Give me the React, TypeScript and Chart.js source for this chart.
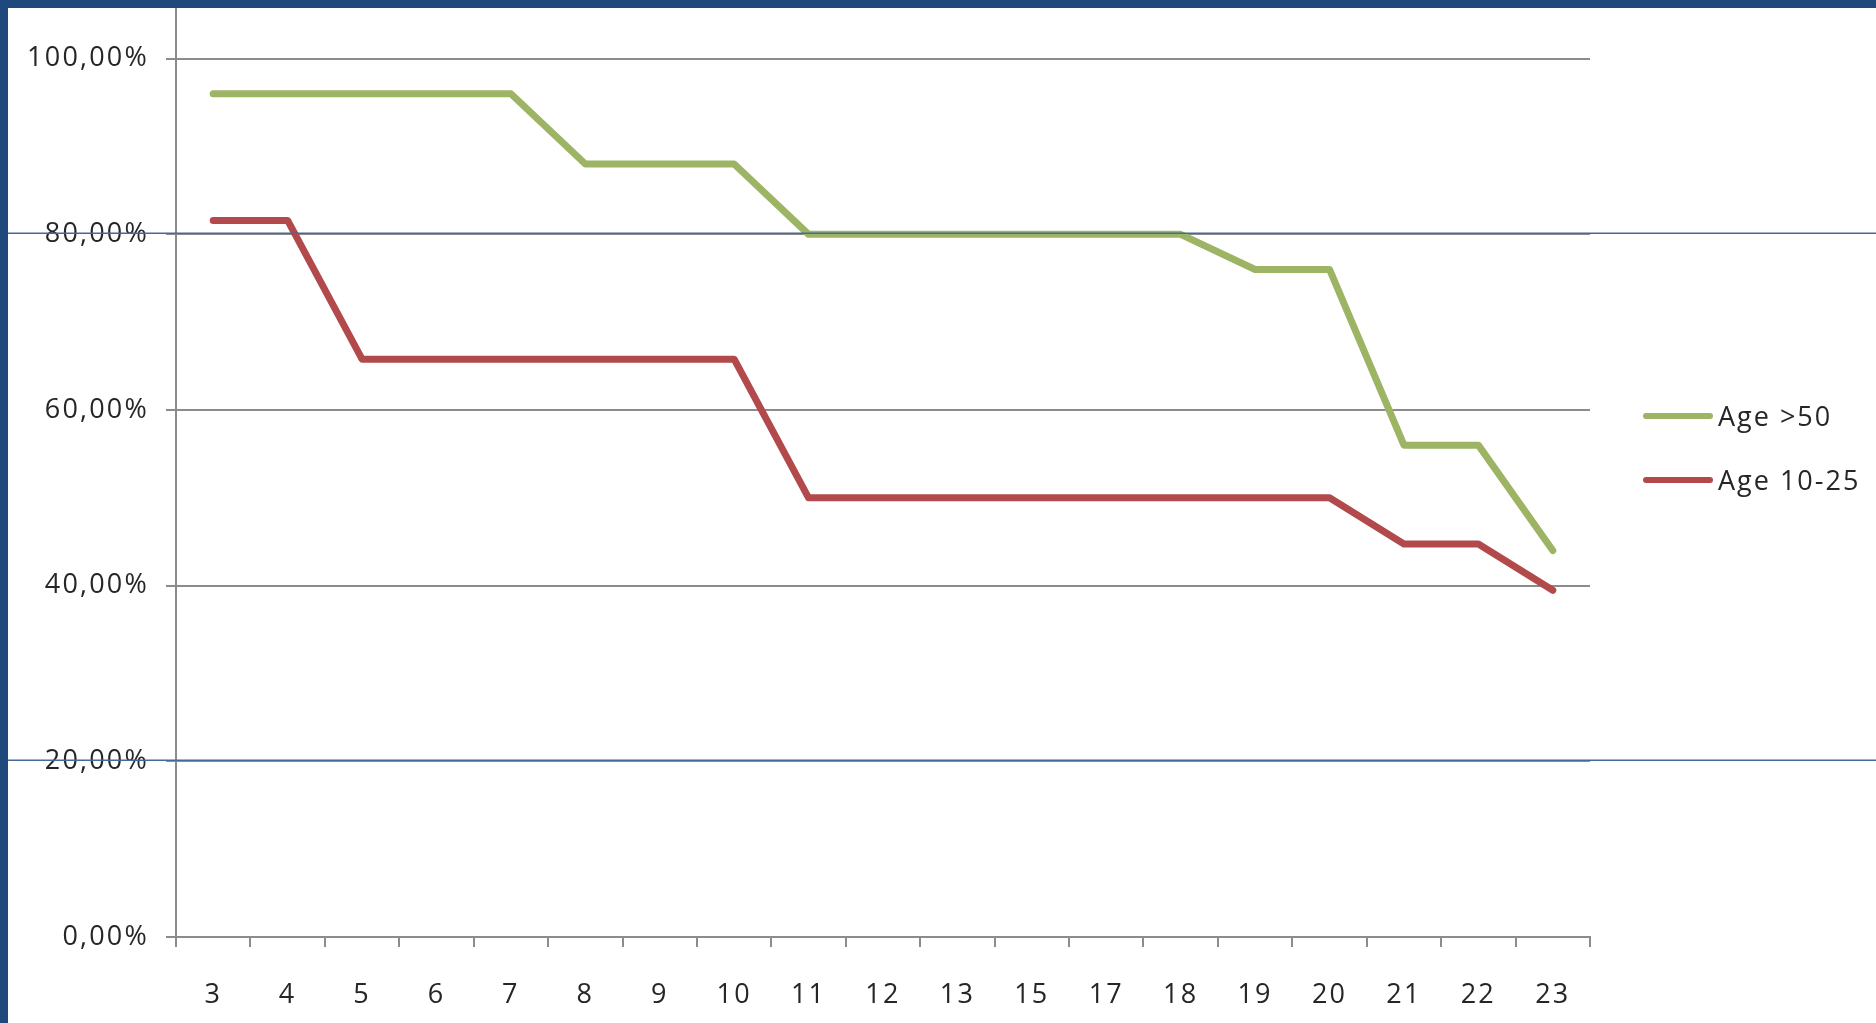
import React, { useEffect, useRef } from 'react';
import { Chart, registerables } from 'chart.js';

Chart.register(...registerables);

const categories = ['3', '4', '5', '6', '7', '8', '9', '10', '11', '12', '13', '15', '17', '18', '19', '20', '21', '22', '23'];
const ageOver50 = [96, 96, 96, 96, 96, 88, 88, 88, 80, 80, 80, 80, 80, 80, 76, 76, 56, 56, 44];
const age10to25 = [81.58, 81.58, 65.79, 65.79, 65.79, 65.79, 65.79, 65.79, 50, 50, 50, 50, 50, 50, 50, 50, 44.74, 44.74, 39.47];
const seriesLabels = ['Age >50', 'Age 10-25'];
const seriesColors = ['#9db464', '#b24a4c'];
const markerValues = [80, 20];

const W = 1868;
const H = 1015;
const FONT = "'Open Sans', 'Noto Sans', sans-serif";
const GRID = '#8c8c8c';
const TEXT = '#262626';

export default function App() {
  const ref = useRef<HTMLCanvasElement | null>(null);

  useEffect(() => {
    if (!ref.current) return;
    const spacing = {
      id: 'letterSpacing',
      beforeDraw(chart: any) {
        (chart.ctx as any).letterSpacing = '2.2px';
      },
    };
    const overlay = {
      id: 'overlayLines',
      afterDraw(chart: any) {
        const ctx = chart.ctx;
        const ys = chart.scales.y;
        ctx.save();
        ctx.strokeStyle = '#45699b';
        ctx.lineWidth = 1.5;
        markerValues.forEach((v) => {
          const py = ys.getPixelForValue(v) - 1;
          ctx.beginPath();
          ctx.moveTo(0, py);
          ctx.lineTo(chart.width, py);
          ctx.stroke();
        });
        ctx.restore();
      },
    };
    const chart = new Chart(ref.current, {
      type: 'line',
      data: {
        labels: categories,
        datasets: [
          {
            label: seriesLabels[0],
            data: ageOver50,
            borderColor: seriesColors[0],
            backgroundColor: seriesColors[0],
            borderWidth: 7,
            pointRadius: 0,
            tension: 0,
            borderJoinStyle: 'round',
            borderCapStyle: 'round',
          },
          {
            label: seriesLabels[1],
            data: age10to25,
            borderColor: seriesColors[1],
            backgroundColor: seriesColors[1],
            borderWidth: 7,
            pointRadius: 0,
            tension: 0,
            borderJoinStyle: 'round',
            borderCapStyle: 'round',
          },
        ],
      },
      options: {
        animation: false,
        responsive: false,
        layout: { padding: { left: 0, right: 286, top: 0, bottom: 0 } },
        plugins: { legend: { display: false }, tooltip: { enabled: false } },
        scales: {
          x: {
            type: 'category',
            offset: true,
            grid: { offset: true, drawOnChartArea: false, drawTicks: true, tickLength: 10, color: GRID, lineWidth: 2 },
            border: { display: true, color: GRID, width: 2 },
            ticks: { font: { family: FONT, size: 27 }, color: TEXT, padding: 32, maxRotation: 0, autoSkip: false },
            afterFit: (s: any) => {
              s.height = 86;
              s.paddingLeft = 0;
              s.paddingRight = 0;
            },
          },
          y: {
            type: 'linear',
            min: 0,
            max: 105.77,
            ticks: {
              stepSize: 20,
              font: { family: FONT, size: 27 },
              color: TEXT,
              padding: 17,
              callback: (v: any) => Number(v).toFixed(2).replace('.', ',') + '%',
            },
            afterBuildTicks: (s: any) => {
              s.ticks = s.ticks.filter((t: any) => t.value <= 100.0001);
            },
            afterFit: (s: any) => {
              s.width = 168;
              s.paddingTop = 0;
              s.paddingBottom = 0;
            },
            grid: { color: GRID, lineWidth: 2, tickLength: 10, drawTicks: true },
            border: { display: true, color: GRID, width: 2 },
          },
        },
      },
      plugins: [spacing, overlay],
    } as any);
    return () => chart.destroy();
  }, []);

  const legendItem = (i: number, top: number) => (
    <div
      key={i}
      style={{ position: 'absolute', left: 1635, top, height: 40, display: 'flex', alignItems: 'center' }}
    >
      <div style={{ width: 70, height: 6, background: seriesColors[i], borderRadius: 3 }} />
      <div
        style={{
          marginLeft: 5,
          fontFamily: FONT,
          fontSize: 27,
          color: TEXT,
          whiteSpace: 'nowrap',
          lineHeight: '40px',
          letterSpacing: '2px',
        }}
      >
        {seriesLabels[i]}
      </div>
    </div>
  );

  return (
    <div style={{ position: 'fixed', left: 0, top: 0, width: '100vw', height: '100vh', background: '#1f497d', overflow: 'hidden' }}>
      <div style={{ position: 'absolute', left: 8, top: 8, width: W, height: H, background: '#ffffff' }}>
        <canvas ref={ref} width={W} height={H} style={{ display: 'block', width: W, height: H }} />
        {legendItem(0, 388)}
        {legendItem(1, 452)}
      </div>
    </div>
  );
}
